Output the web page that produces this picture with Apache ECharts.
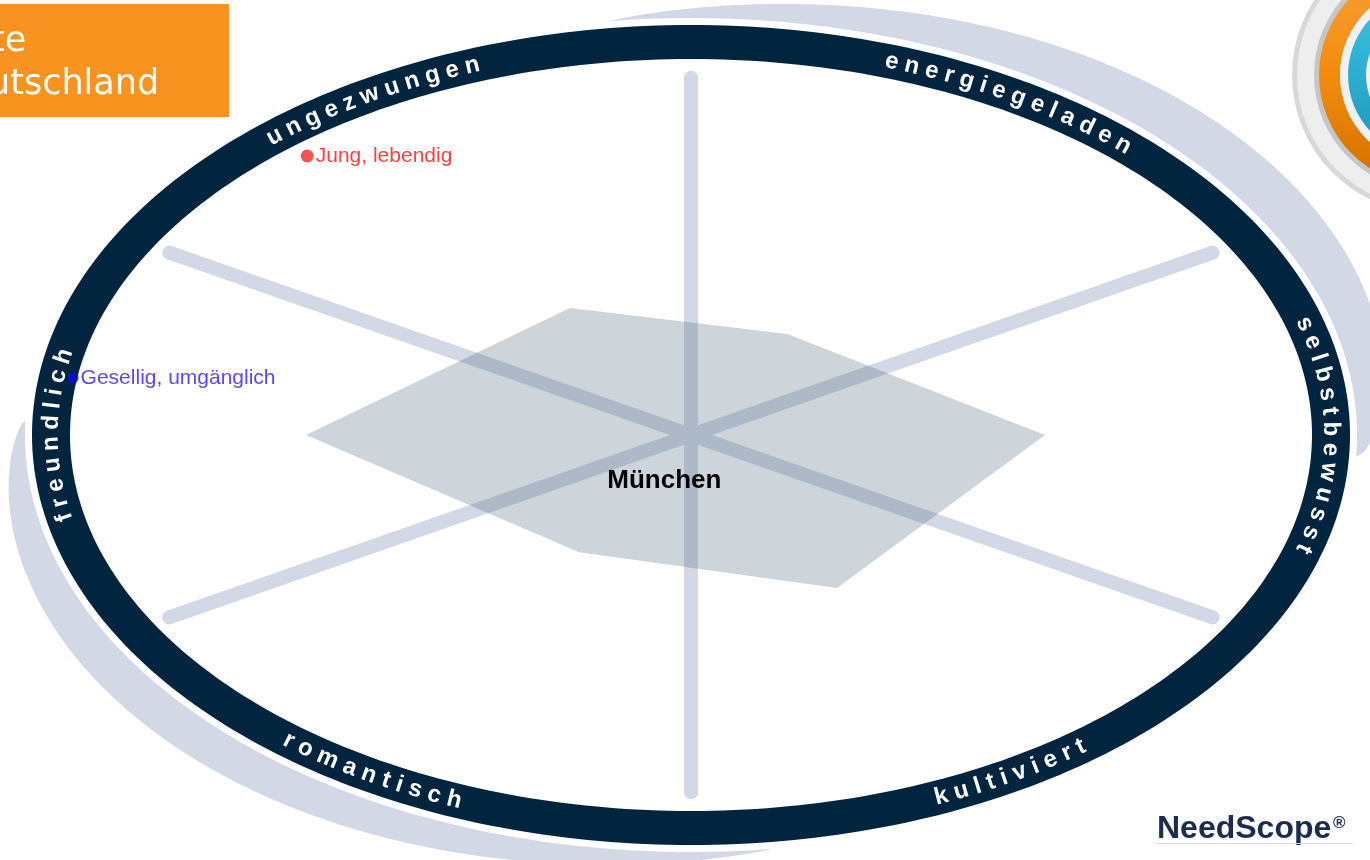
<!DOCTYPE html>
<html>
<head>
<meta charset="utf-8">
<script src="https://cdn.jsdelivr.net/npm/echarts@6/dist/echarts.min.js"></script>
<style>
  html, body { margin: 0; padding: 0; background: #ffffff; }
  #chart { width: 1370px; height: 860px; }
</style>
</head>
<body>
<div id="chart"></div>
<script>
// Six image dimensions around the map, counter-clockwise from the right (degrees)
const dimensions = ['selbstbewusst', 'energiegeladen', 'ungezwungen', 'freundlich', 'romantisch', 'kultiviert'];
const dimensionAngles = [0, 60, 120, 180, 240, 300];

// City profile: score per dimension (100 = edge of the map)
const profileName = 'München';
const profileScores = [57, 31, 39, 62, 36, 47];

// Dividing spokes between the dimensions, with their reach in map units
const spokeAngles = [30, 90, 150, 210, 270, 330];
const spokeReach = [97, 95, 97, 97, 95, 97];

// Statements positioned on the map (x, y in map units)
const statementNames = ['Jung, lebendig', 'Gesellig, umgänglich'];
const statementX = [-61.8, -99.5];
const statementY = [74.2, 15.2];

// Title box lines
const titleLines = ['te', 'utschland'];

// ---- layout ----
const CENTER_X = 691, CENTER_Y = 435, RADIUS_X = 621, RADIUS_Y = 376;
const RING_X = 38, RING_Y = 34, GAP = 7;
const NAVY = '#01243f', MIST = '#d3d8e6';
const RING_FONT = 'bold 24px "Liberation Sans", Arial, sans-serif';
const RING_SPACING = 6.5;
const PROFILE_LABEL_AT = [-4.3, -12.2];
const RAD = Math.PI / 180;

const measureCtx = document.createElement('canvas').getContext('2d');

function ellipsePoints(cx, cy, rx, ry) {
  const pts = [];
  for (let i = 0; i < 360; i++) {
    const t = i * RAD;
    pts.push([cx + rx * Math.cos(t), cy - ry * Math.sin(t)]);
  }
  return pts;
}

// tapered band hugging an ellipse between parameter angles t0..t1, widest at tp
function crescent(cx, cy, rx, ry, t0, t1, tp, wmax) {
  const inner = [], outer = [];
  const n = 200;
  const k = Math.log(0.5) / Math.log((tp - t0) / (t1 - t0));
  for (let i = 0; i <= n; i++) {
    const u = i / n;
    const t = (t0 + (t1 - t0) * u) * RAD;
    const w = wmax * Math.pow(Math.sin(Math.PI * Math.pow(u, k)), 0.85);
    inner.push([cx + rx * Math.cos(t), cy - ry * Math.sin(t)]);
    outer.push([cx + (rx + w) * Math.cos(t), cy - (ry + w) * Math.sin(t)]);
  }
  return inner.concat(outer.reverse());
}

// walk along the ellipse by an arc distance (sign = direction of increasing t)
function walk(t, dist, rx, ry) {
  const dir = Math.sign(dist), step = 0.0004;
  let acc = 0;
  while (acc < Math.abs(dist)) {
    acc += step * Math.hypot(rx * Math.sin(t), ry * Math.cos(t));
    t += dir * step;
  }
  return t;
}

// one text element per character, following the ring
function arcText(text, tcDeg, cx, cy, rx, ry, clockwise) {
  measureCtx.font = RING_FONT;
  const chars = Array.from(text);
  const widths = chars.map(ch => measureCtx.measureText(ch).width);
  const total = widths.reduce((a, b) => a + b, 0) + RING_SPACING * (chars.length - 1);
  const out = [];
  let s = 0;
  chars.forEach((ch, i) => {
    const mid = s + widths[i] / 2 - total / 2;
    s += widths[i] + RING_SPACING;
    const t = walk(tcDeg * RAD, clockwise ? -mid : mid, rx, ry);
    const k = clockwise ? 1 : -1;
    const dx = k * rx * Math.sin(t), dy = k * ry * Math.cos(t);
    out.push({
      type: 'text',
      x: cx + rx * Math.cos(t),
      y: cy - ry * Math.sin(t),
      rotation: -Math.atan2(dy, dx),
      style: { text: ch, fill: '#ffffff', font: RING_FONT, align: 'center', verticalAlign: 'middle' }
    });
  });
  return out;
}

function renderFrame(params, api) {
  const c = api.coord([0, 0]);
  const sz = api.size([100, 100]);
  const ax = sz[0], by = sz[1];
  const ox = ax + RING_X, oy = by + RING_Y;
  const gx = ox + GAP, gy = oy + GAP;
  const children = [
    { type: 'polygon', shape: { points: crescent(c[0], c[1], gx, gy, -3, 97, 33, 48) }, style: { fill: MIST } },
    { type: 'polygon', shape: { points: crescent(c[0], c[1], gx, gy, 178, 277, 218, 40) }, style: { fill: MIST } },
    { type: 'polygon', shape: { points: ellipsePoints(c[0], c[1], ox, oy) }, style: { fill: NAVY } },
    { type: 'polygon', shape: { points: ellipsePoints(c[0], c[1], ax, by) }, style: { fill: '#ffffff' } }
  ];
  const mx = ax + RING_X / 2, my = by + RING_Y / 2;
  dimensions.forEach((name, i) => {
    const a = dimensionAngles[i];
    const bottom = Math.sin(a * RAD) < -0.5;
    children.push(...arcText(name, a, c[0], c[1], mx, my, !bottom));
  });
  return { type: 'group', children };
}

const spokeData = spokeAngles.map((a, i) => [spokeReach[i] * Math.cos(a * RAD), spokeReach[i] * Math.sin(a * RAD)]);
const profileData = profileScores.map((s, i) => [s * Math.cos(dimensionAngles[i] * RAD), s * Math.sin(dimensionAngles[i] * RAD)]);

const chart = echarts.init(document.getElementById('chart'), null, { renderer: 'canvas' });

chart.setOption({
  animation: false,
  backgroundColor: '#ffffff',
  grid: { left: CENTER_X - RADIUS_X, top: CENTER_Y - RADIUS_Y, width: 2 * RADIUS_X, height: 2 * RADIUS_Y },
  xAxis: { type: 'value', min: -100, max: 100, show: false },
  yAxis: { type: 'value', min: -100, max: 100, show: false },
  series: [
    {
      type: 'custom', name: 'frame', silent: true, z: 1,
      data: [[0, 0]],
      renderItem: renderFrame
    },
    {
      type: 'custom', name: 'spokes', silent: true, z: 2,
      data: spokeData,
      renderItem: (params, api) => {
        const c = api.coord([0, 0]);
        const e = api.coord([api.value(0), api.value(1)]);
        return {
          type: 'line',
          shape: { x1: c[0], y1: c[1], x2: e[0], y2: e[1] },
          style: { stroke: MIST, lineWidth: 14, lineCap: 'round' }
        };
      }
    },
    {
      type: 'custom', name: profileName, silent: true, z: 3,
      data: profileData,
      renderItem: (params, api) => {
        if (params.dataIndex !== 0) return null;
        const pts = profileData.map(p => api.coord(p));
        const lp = api.coord(PROFILE_LABEL_AT);
        return {
          type: 'group',
          children: [
            { type: 'polygon', shape: { points: pts }, style: { fill: 'rgba(70,98,120,0.27)' } },
            { type: 'text', x: lp[0], y: lp[1],
              style: { text: profileName, fill: '#000000', font: 'bold 26px "Liberation Sans", Arial, sans-serif', align: 'center', verticalAlign: 'middle' } }
          ]
        };
      }
    },
    {
      type: 'scatter', name: 'statements', silent: true, z: 4,
      data: [
        { name: statementNames[0], value: [statementX[0], statementY[0]], symbolSize: 13,
          itemStyle: { color: '#f02828' }, label: { color: '#ff1010' } },
        { name: statementNames[1], value: [statementX[1], statementY[1]], symbolSize: 11,
          itemStyle: { color: '#0a0ae6' }, label: { color: '#2a18ff' } }
      ],
      label: {
        show: true, position: 'right', distance: 2, formatter: '{b}',
        fontSize: 21, fontFamily: '"Liberation Sans", Arial, sans-serif'
      }
    }
  ],
  graphic: [
    { type: 'rect', shape: { x: 0, y: 4, width: 229, height: 113 }, style: { fill: '#f7931e' }, z: 10 },
    { type: 'text', x: -9, y: 42, z: 11,
      style: { text: titleLines[0], fill: '#ffffff', font: '35px "DejaVu Sans", Verdana, sans-serif', verticalAlign: 'middle' } },
    { type: 'text', x: -12, y: 85, z: 11,
      style: { text: titleLines[1], fill: '#ffffff', font: '35px "DejaVu Sans", Verdana, sans-serif', verticalAlign: 'middle' } },
    // corner emblem
    { type: 'circle', shape: { cx: 1430, cy: 75, r: 138 }, style: { fill: '#d8d8d8' }, z: 10 },
    { type: 'circle', shape: { cx: 1430, cy: 75, r: 133 }, style: { fill: '#eeeeee' }, z: 10 },
    { type: 'circle', shape: { cx: 1430, cy: 75, r: 116 }, style: { fill: '#c6c6c6' }, z: 10 },
    { type: 'ring', shape: { cx: 1430, cy: 75, r: 111, r0: 90 }, z: 11,
      style: { fill: new echarts.graphic.LinearGradient(0, 0, 0, 1, [{ offset: 0, color: '#f9a03a' }, { offset: 0.5, color: '#f28c0c' }, { offset: 1, color: '#d66e00' }]) } },
    { type: 'circle', shape: { cx: 1430, cy: 75, r: 90 }, style: { fill: '#f1f1f1' }, z: 11 },
    { type: 'ring', shape: { cx: 1430, cy: 75, r: 82, r0: 64 }, z: 12,
      style: { fill: new echarts.graphic.LinearGradient(0, 0, 0, 1, [{ offset: 0, color: '#3cc3e2' }, { offset: 1, color: '#1c98bd' }]) } },
    // brand mark
    { type: 'text', x: 1157, y: 829, z: 10,
      style: { text: 'NeedScope', fill: '#1b2c50', font: 'bold 32px "Liberation Sans", Arial, sans-serif', verticalAlign: 'middle' } },
    { type: 'text', x: 1333, y: 823, z: 10,
      style: { text: '®', fill: '#1b2c50', font: 'bold 17px "Liberation Sans", Arial, sans-serif', verticalAlign: 'middle' } },
    { type: 'rect', shape: { x: 1155, y: 843, width: 198, height: 1 }, style: { fill: '#dcdcdc' }, z: 10 }
  ]
});
</script>
</body>
</html>
